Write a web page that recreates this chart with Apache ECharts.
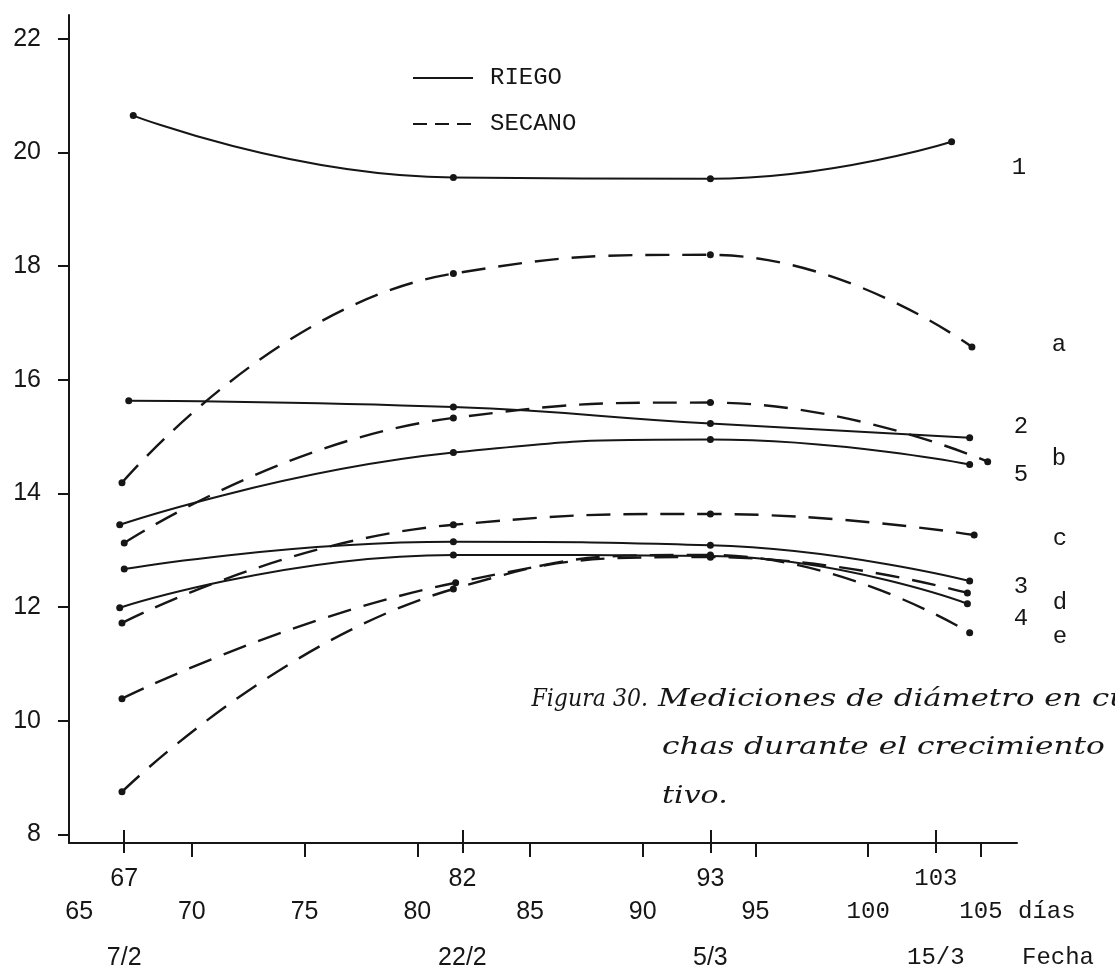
<!DOCTYPE html>
<html><head><meta charset="utf-8">
<script src="https://cdn.jsdelivr.net/npm/echarts@6/dist/echarts.min.js"></script>
<style>html,body{margin:0;padding:0;background:#fff;} #c{width:1115px;height:972px;}</style>
</head><body><div id="c"></div>
<script>
// ---- axis tick values / labels ----
const yTicks = [8, 10, 12, 14, 16, 18, 20, 22];
const measureDays = [67, 82, 93, 103];
const dayTicks = [70, 75, 80, 85, 90, 95, 100, 105];
const dayLabels = [65, 70, 75, 80, 85, 90, 95, 100, 105];
const dateLabels = ['7/2', '22/2', '5/3', '15/3'];
const monoValues = [100, 103, 105];
const monoDates = ['15/3'];

// ---- series values [day as drawn, diameter] ----
const riego1 = [[67.4, 20.65], [81.6, 19.56], [93.0, 19.54], [103.7, 20.19]];
const riego2 = [[67.2, 15.63], [81.6, 15.52], [93.0, 15.23], [104.5, 14.98]];
const riego5 = [[66.8, 13.45], [81.6, 14.72], [93.0, 14.95], [104.5, 14.51]];
const riego3 = [[67.0, 12.67], [81.6, 13.15], [93.0, 13.09], [104.5, 12.46]];
const riego4 = [[66.8, 11.99], [81.6, 12.92], [93.0, 12.90], [104.4, 12.06]];
const secanoA = [[66.9, 14.19], [81.6, 17.87], [93.0, 18.20], [104.6, 16.58]];
const secanoB = [[67.0, 13.13], [81.6, 15.33], [93.0, 15.60], [105.3, 14.56]];
const secanoC = [[66.9, 11.72], [81.6, 13.45], [93.0, 13.64], [104.7, 13.27]];
const secanoD = [[66.9, 10.39], [81.7, 12.43], [93.0, 12.88], [104.4, 12.25]];
const secanoE = [[66.9, 8.75], [81.6, 12.32], [93.0, 12.92], [104.5, 11.55]];

const riegoSeries = [riego1, riego2, riego5, riego3, riego4];
const secanoSeries = [secanoA, secanoB, secanoC, secanoD, secanoE];
const curveNames = ['1', 'a', '2', 'b', '5', 'c', '3', 'd', '4', 'e'];
const title = ['Figura 30.', 'Mediciones de diámetro en cu-', 'chas durante el crecimiento vegeta-', 'tivo.'];

// ---- layout ----
const INK = '#161616';
const SANS = 'Liberation Sans';
const MONO = 'Liberation Mono';
const curveLabelPos = [[1019,168],[1059,345],[1021,427],[1059,459],[1021,475],[1060,539],[1021,587],[1060,603],[1021,619],[1060,637]];
const titleLayout = [
  { x: 648, y: 700, align: 'right', sx: 0.92 },
  { x: 658, y: 700, align: 'left', sx: 1.28 },
  { x: 662, y: 748, align: 'left', sx: 1.3 },
  { x: 662, y: 797, align: 'left', sx: 1.25 }
];
const XMIN = 64.55, XMAX = 106.6;

const richFonts = {
  s: { fontFamily: SANS, fontSize: 25, color: INK },
  m: { fontFamily: MONO, fontSize: 24, color: INK }
};

function mkSeries(data, name, dashed) {
  return {
    type: 'line', name: name, data: data, smooth: 0.5,
    symbol: 'circle', symbolSize: 7, showSymbol: true,
    itemStyle: { color: INK },
    lineStyle: { color: INK, width: dashed ? 2.4 : 2, type: dashed ? [24, 13] : 'solid' },
    emphasis: { disabled: true }, z: 3
  };
}

const series = [];
riegoSeries.forEach(d => series.push(mkSeries(d, 'RIEGO', false)));
secanoSeries.forEach(d => series.push(mkSeries(d, 'SECANO', true)));

const graphics = [];
curveNames.forEach((t, i) => graphics.push({
  type: 'text', x: curveLabelPos[i][0], y: curveLabelPos[i][1],
  style: { text: t, font: '24px "' + MONO + '"', fill: INK, align: 'center', verticalAlign: 'middle' }
}));
graphics.push({ type: 'text', x: 1018, y: 912, style: { text: 'días', font: '24px "' + MONO + '"', fill: INK, verticalAlign: 'middle' } });
graphics.push({ type: 'text', x: 1022, y: 958, style: { text: 'Fecha', font: '24px "' + MONO + '"', fill: INK, verticalAlign: 'middle' } });
title.forEach((t, i) => graphics.push({
  type: 'text', x: titleLayout[i].x, y: titleLayout[i].y, scaleX: titleLayout[i].sx,
  style: { text: t, font: 'italic 24px "DejaVu Serif"', fill: INK, align: titleLayout[i].align, verticalAlign: 'middle' }
}));

const baseX = {
  type: 'value', min: XMIN, max: XMAX, position: 'bottom',
  splitLine: { show: false }
};

const option = {
  animation: false,
  backgroundColor: '#ffffff',
  grid: { left: 69, right: 98, top: 15, bottom: 129, containLabel: false, outerBoundsMode: 'none' },
  legend: {
    orient: 'vertical', left: 407, top: 61, itemWidth: 60, itemHeight: 26, itemGap: 22,
    data: [{ name: 'RIEGO' }, { name: 'SECANO', lineStyle: { type: [14, 8] } }],
    itemStyle: { opacity: 0 },
    textStyle: { fontFamily: MONO, fontSize: 24, color: INK, padding: [0, 0, 0, 12] },
    selectedMode: false
  },
  xAxis: [
    Object.assign({}, baseX, {
      axisLine: { show: true, onZero: false, lineStyle: { color: INK, width: 2 } },
      axisTick: { show: true, customValues: dayTicks, length: 14, lineStyle: { color: INK, width: 2 } },
      axisLabel: {
        customValues: dayLabels, margin: 57,
        formatter: v => (monoValues.indexOf(v) >= 0 ? '{m|' + v + '}' : '{s|' + v + '}'),
        rich: richFonts
      }
    }),
    Object.assign({}, baseX, {
      axisLine: { show: false, onZero: false },
      axisTick: { show: true, customValues: measureDays, length: 10, lineStyle: { color: INK, width: 2 } },
      axisLabel: {
        customValues: measureDays, margin: 24,
        formatter: v => (monoValues.indexOf(v) >= 0 ? '{m|' + v + '}' : '{s|' + v + '}'),
        rich: richFonts
      }
    }),
    Object.assign({}, baseX, {
      axisLine: { show: false, onZero: false },
      axisTick: { show: true, inside: true, customValues: measureDays, length: 13, lineStyle: { color: INK, width: 2 } },
      axisLabel: {
        customValues: measureDays, margin: 103,
        formatter: v => {
          const t = dateLabels[measureDays.indexOf(v)];
          return monoDates.indexOf(t) >= 0 ? '{m|' + t + '}' : '{s|' + t + '}';
        },
        rich: richFonts
      }
    })
  ],
  yAxis: {
    type: 'value', min: 7.85, max: 22.42,
    axisLine: { show: true, onZero: false, lineStyle: { color: INK, width: 2 } },
    axisTick: { show: true, customValues: yTicks, length: 11, lineStyle: { color: INK, width: 2 } },
    axisLabel: { customValues: yTicks, margin: 28, fontFamily: SANS, fontSize: 25, color: INK },
    splitLine: { show: false }
  },
  series: series,
  graphic: graphics
};

const chart = echarts.init(document.getElementById('c'), null, { renderer: 'canvas' });
chart.setOption(option);
</script>
</body></html>
